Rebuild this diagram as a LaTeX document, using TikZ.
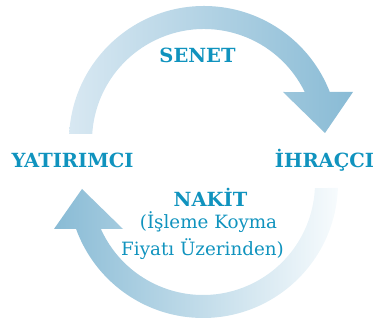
\documentclass[tikz,border=0pt]{standalone}
\usepackage{fontspec}
\setmainfont{DejaVu Serif}
\usetikzlibrary{calc}
\definecolor{tealtext}{RGB}{16,147,190}
\definecolor{bandlight}{RGB}{216,232,242}
\definecolor{banddark}{RGB}{137,187,213}
\definecolor{bandpale}{RGB}{247,251,253}
\tikzstyle{heading} = [%
					text = tealtext,
					font = \bfseries\fontsize{19.5}{23}\selectfont,
					anchor = base,
					inner sep = 0pt]
\tikzstyle{note} = [%
					text = tealtext,
					font = \fontsize{18.3}{22}\selectfont,
					anchor = base,
					inner sep = 0pt]
\tikzstyle{band} = [%
					draw = none]

\begin{document}
\begin{tikzpicture}[x=1pt, y=1pt]
		\useasboundingbox (0,0) rectangle (375,323);
		
		% Coordinates
		\coordinate (top) at (204,182);
		\coordinate (bot) at (203,140);
		
		% Arrows
		%% Senet: yatirimci -> ihracci
		\shade[band, left color=bandlight, right color=banddark]
			($(top)+(177:135)$) arc[start angle=177, end angle=21.3, radius=135]
			-- (353,231) -- (325,190) -- (283,231)
			-- ($(top)+(25.9:112)$) arc[start angle=25.9, end angle=176.4, radius=112] -- cycle;
		%% Nakit: ihracci -> yatirimci
		\shade[band, left color=banddark, right color=bandpale]
			($(bot)+(-2.1:135)$) arc[start angle=-2.1, end angle=-160.1, radius=135]
			-- (54,94) -- (82,134) -- (123,94)
			-- ($(bot)+(-155.8:112)$) arc[start angle=-155.8, end angle=-2.6, radius=112] -- cycle;
		
		% Nodes
		\node[heading] (yat) at (72.5,155) {YATIRIMCI};
		\node[heading] (ihr) at (324.5,155) {İHRAÇCI};
		\node[heading] (senet) at (197.5,260) {SENET};
		\node[heading] (nakit) at (210.5,116) {NAKİT};
		\node[note] (isl) at (208.5,94) {(İşleme Koyma};
		\node[note] (fiy) at (202.5,67) {Fiyatı Üzerinden)};
	\end{tikzpicture}
\end{document}
